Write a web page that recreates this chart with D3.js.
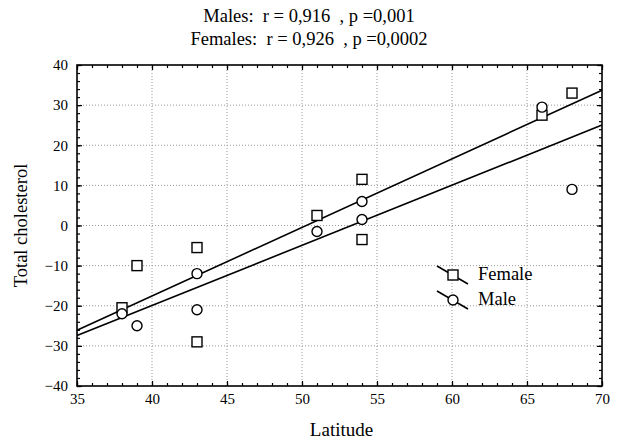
<!DOCTYPE html>
<html>
<head>
<meta charset="utf-8">
<script src="https://cdn.jsdelivr.net/npm/d3@7"></script>
<style>
  body { margin: 0; background: #fff; }
  svg { font-family: "Liberation Serif", "DejaVu Serif", serif; }
</style>
</head>
<body>
<div id="chart"></div>
<script>
const latitude = [38, 39, 43, 43, 51, 54, 54, 66, 68];
const femaleChol = [-20.5, -10, -5.5, -29, 2.5, 11.5, -3.5, 27.5, 33];
const maleChol = [-22, -25, -12, -21, -1.5, 6, 1.5, 29.5, 9];
const xTicks = [35, 40, 45, 50, 55, 60, 65, 70];
const yTicks = [-40, -30, -20, -10, 0, 10, 20, 30, 40];
const titleLines = ["Males:  r = 0,916  , p =0,001", "Females:  r = 0,926  , p =0,0002"];
const seriesNames = ["Female", "Male"];

const W = 617, H = 441;
const margin = { top: 65, right: 15, bottom: 55, left: 77 };

const svg = d3.select("#chart").append("svg").attr("width", W).attr("height", H);

const x = d3.scaleLinear().domain([35, 70]).range([margin.left, W - margin.right]);
const y = d3.scaleLinear().domain([-40, 40]).range([H - margin.bottom, margin.top]);

// least squares fit
const fit = (xs, ys) => {
  const mx = d3.mean(xs), my = d3.mean(ys);
  const sxy = d3.sum(xs, (v, i) => (v - mx) * (ys[i] - my));
  const sxx = d3.sum(xs, (v) => (v - mx) ** 2);
  const b = sxy / sxx;
  return (v) => my + b * (v - mx);
};

// grid
const grid = svg.append("g").attr("stroke", "#999").attr("stroke-dasharray", "1,2");
grid.selectAll(".gy").data(yTicks.slice(1, -1)).enter().append("line")
  .attr("x1", x(35)).attr("x2", x(70)).attr("y1", (d) => y(d)).attr("y2", (d) => y(d));
grid.selectAll(".gx").data(xTicks.slice(1, -1)).enter().append("line")
  .attr("y1", y(-40)).attr("y2", y(40)).attr("x1", (d) => x(d)).attr("x2", (d) => x(d));

// ticks on all four sides, pointing inward
const minorX = d3.range(35, 70.01, 1);
const minorY = d3.range(-40, 40.01, 2);
const axes = svg.append("g");
axes.append("g").attr("transform", `translate(0,${y(-40)})`)
  .call(d3.axisBottom(x).tickValues(minorX).tickSize(-3).tickFormat(""));
axes.append("g").attr("transform", `translate(0,${y(-40)})`)
  .call(d3.axisBottom(x).tickValues(xTicks).tickSize(-5).tickPadding(7).tickFormat(d3.format("d")));
axes.append("g").attr("transform", `translate(0,${y(40)})`)
  .call(d3.axisTop(x).tickValues(minorX).tickSize(-3).tickFormat(""));
axes.append("g").attr("transform", `translate(0,${y(40)})`)
  .call(d3.axisTop(x).tickValues(xTicks).tickSize(-5).tickFormat(""));
axes.append("g").attr("transform", `translate(${x(35)},0)`)
  .call(d3.axisLeft(y).tickValues(minorY).tickSize(-3).tickFormat(""));
axes.append("g").attr("transform", `translate(${x(35)},0)`)
  .call(d3.axisLeft(y).tickValues(yTicks).tickSize(-5).tickPadding(9).tickFormat(d3.format("d")));
axes.append("g").attr("transform", `translate(${x(70)},0)`)
  .call(d3.axisRight(y).tickValues(minorY).tickSize(-3).tickFormat(""));
axes.append("g").attr("transform", `translate(${x(70)},0)`)
  .call(d3.axisRight(y).tickValues(yTicks).tickSize(-5).tickFormat(""));
axes.selectAll(".domain").remove();
axes.selectAll("line").attr("stroke", "#000").attr("stroke-width", 1.2);
axes.selectAll("text").attr("fill", "#000")
  .attr("font-family", "Liberation Serif").attr("font-size", 15);

// frame
svg.append("rect").attr("x", x(35)).attr("y", y(40))
  .attr("width", x(70) - x(35)).attr("height", y(-40) - y(40))
  .attr("fill", "none").attr("stroke", "#000").attr("stroke-width", 1.6);

// regression lines
const lineGen = d3.line().x((d) => x(d[0])).y((d) => y(d[1]));
[femaleChol, maleChol].forEach((ys) => {
  const f = fit(latitude, ys);
  svg.append("path").datum([[35, f(35)], [70, f(70)]])
    .attr("d", lineGen).attr("fill", "none").attr("stroke", "#000").attr("stroke-width", 1.6);
});

// points
svg.selectAll(".sq").data(latitude).enter().append("rect")
  .attr("x", (d) => x(d) - 5).attr("y", (d, i) => y(femaleChol[i]) - 5)
  .attr("width", 10).attr("height", 10)
  .attr("fill", "#fff").attr("stroke", "#000").attr("stroke-width", 1.4);
svg.selectAll(".ci").data(latitude).enter().append("circle")
  .attr("cx", (d) => x(d)).attr("cy", (d, i) => y(maleChol[i])).attr("r", 5)
  .attr("fill", "#fff").attr("stroke", "#000").attr("stroke-width", 1.4);

// legend
const legend = svg.append("g").attr("transform", "translate(437,266)");
seriesNames.forEach((name, i) => {
  const g = legend.append("g").attr("transform", `translate(0,${i * 25})`);
  g.append("line").attr("x1", 0).attr("y1", 0).attr("x2", 31).attr("y2", 18)
    .attr("stroke", "#000").attr("stroke-width", 1.6);
  if (i === 0) {
    g.append("rect").attr("x", 11).attr("y", 4).attr("width", 10).attr("height", 10)
      .attr("fill", "#fff").attr("stroke", "#000").attr("stroke-width", 1.4);
  } else {
    g.append("circle").attr("cx", 16).attr("cy", 9).attr("r", 5)
      .attr("fill", "#fff").attr("stroke", "#000").attr("stroke-width", 1.4);
  }
  g.append("text").attr("x", 41).attr("y", 14).attr("font-size", 18.5).text(name);
});

// titles
svg.selectAll(".title").data(titleLines).enter().append("text")
  .attr("x", 309).attr("y", (d, i) => 22 + i * 23)
  .attr("text-anchor", "middle").attr("font-size", 18.5)
  .style("white-space", "pre").text((d) => d);

// axis labels
svg.append("text").attr("x", x(52.5) + 2).attr("y", 436).attr("text-anchor", "middle")
  .attr("font-size", 19).text("Latitude");
svg.append("text").attr("transform", `translate(27,${y(0)}) rotate(-90)`)
  .attr("text-anchor", "middle").attr("font-size", 18.5).text("Total cholesterol");
</script>
</body>
</html>
